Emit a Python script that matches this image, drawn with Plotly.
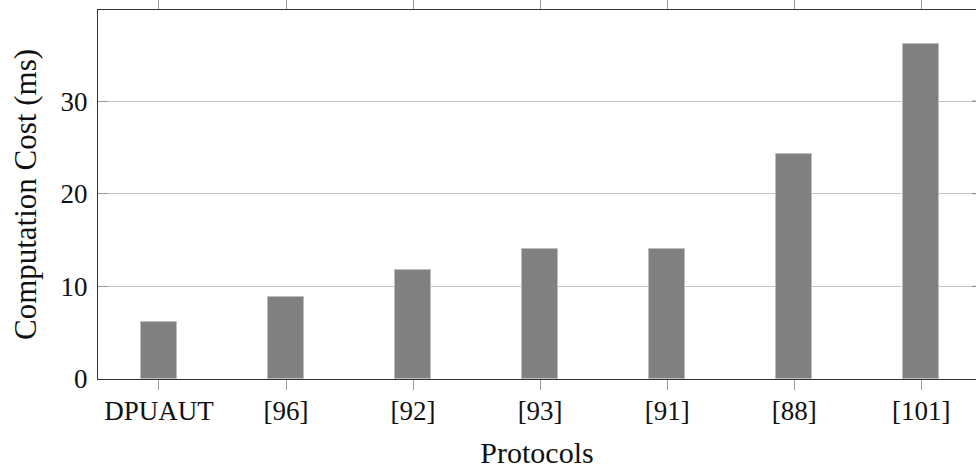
import plotly.graph_objects as go

categories = ["DPUAUT", "[96]", "[92]", "[93]", "[91]", "[88]", "[101]"]
values = [6.1, 8.85, 11.75, 14.05, 14.05, 24.3, 36.2]
y_ticks = [0, 10, 20, 30]

FONT = "Liberation Serif"
fig = go.Figure()
fig.add_trace(go.Bar(
    x=categories, y=values, width=0.28,
    marker=dict(color="#808080", line=dict(color="#bdbdbd", width=1)),
))

for v in y_ticks[1:]:
    fig.add_shape(type="line", xref="paper", yref="y", x0=0.9955, x1=1.0, y0=v, y1=v,
                  line=dict(color="#808080", width=1))

fig.update_layout(
    width=976, height=469,
    margin=dict(l=98, r=0, t=10, b=90, pad=0),
    plot_bgcolor="white", paper_bgcolor="white",
    showlegend=False,
    font=dict(family=FONT, size=27, color="#111"),
    bargap=0,
)
fig.update_xaxes(
    type="category", range=[-0.48, 6.431],
    showline=True, linecolor="#333", linewidth=1.3, mirror="ticks",
    ticks="outside", ticklen=10, tickcolor="#999", tickwidth=1,
    showgrid=False, ticklabelstandoff=-3,
    title=dict(text="Protocols", standoff=17, font=dict(size=30)),
    tickfont=dict(size=27),
)
fig.update_yaxes(
    range=[0, 39.83], tickvals=y_ticks,
    showline=True, linecolor="#333", linewidth=1.3,
    ticks="inside", ticklen=10, tickcolor="#999", tickwidth=1,
    showgrid=True, gridcolor="#c4c4c4", gridwidth=1,
    zeroline=False, ticklabelstandoff=4,
    title=dict(text="Computation Cost (ms)", standoff=14, font=dict(size=31)),
    tickfont=dict(size=27),
)
fig.write_html("out.html")
